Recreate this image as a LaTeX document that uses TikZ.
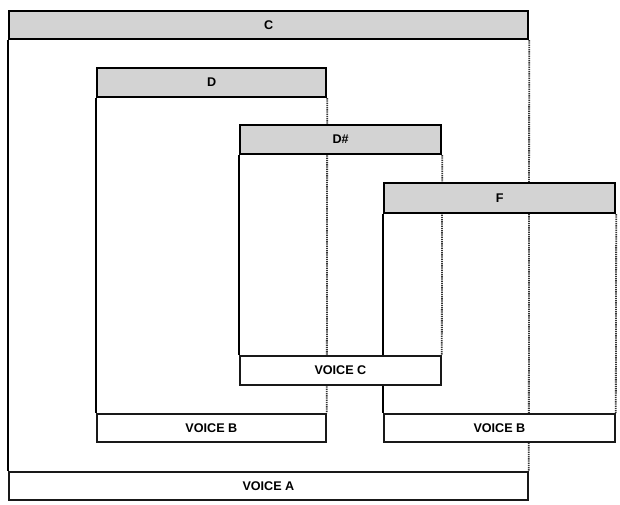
\documentclass[tikz,border=0pt]{standalone}
\usepackage{fontspec}
\setmainfont{Liberation Sans}
\definecolor{hdrgray}{RGB}{211,211,211}
\begin{document}
\begin{tikzpicture}[x=1pt,y=-1pt,
  lbl/.style={font=\bfseries\fontsize{12.6}{14}\selectfont},
  hdr/.style={lbl, draw=black, line width=2.2pt, fill=hdrgray, anchor=north west, inner sep=0pt, minimum height=28pt},
  voice/.style={lbl, draw=black!90, line width=1.8pt, fill=white, anchor=north west, inner sep=0pt, minimum height=28pt},
  sline/.style={draw=black, line width=2pt},
  dline/.style={draw=black!80, line width=1.8pt, dash pattern=on 1.3pt off 0.9pt}]
\useasboundingbox[fill=white] (0,0) rectangle (620,504);
% nodes (positions)
\path
  (8,10) node[hdr, minimum width=519pt] (C) {C}
  (96,67) node[hdr, minimum width=229pt, minimum height=29pt] (D) {D}
  (239,124) node[hdr, minimum width=201pt, minimum height=29pt] (Ds) {D\#}
  (383,182) node[hdr, minimum width=231pt, minimum height=30pt] (F) {F}
  (8,471) node[voice, minimum width=519pt] (VA) {VOICE A}
  (96,413) node[voice, minimum width=229pt] (VB1) {VOICE B}
  (239,355) node[voice, minimum width=201pt, minimum height=29pt] (VC) {VOICE C}
  (383,413) node[voice, minimum width=231pt] (VB2) {VOICE B};
% connecting lines
\draw[sline] (C.south west) -- (VA.north west);
\draw[dline] (C.south east) -- (VA.north east);
\draw[sline] (D.south west) -- (VB1.north west);
\draw[dline] (D.south east) -- (VB1.north east);
\draw[sline] (Ds.south west) -- (VC.north west);
\draw[dline] (Ds.south east) -- (VC.north east);
\draw[sline] (F.south west) -- (VB2.north west);
\draw[dline] (F.south east) -- (VB2.north east);
% redraw boxes on top
\path
  (8,10) node[hdr, minimum width=519pt] {C}
  (96,67) node[hdr, minimum width=229pt, minimum height=29pt] {D}
  (239,124) node[hdr, minimum width=201pt, minimum height=29pt] {D\#}
  (383,182) node[hdr, minimum width=231pt, minimum height=30pt] {F}
  (8,471) node[voice, minimum width=519pt] {VOICE A}
  (96,413) node[voice, minimum width=229pt] {VOICE B}
  (239,355) node[voice, minimum width=201pt, minimum height=29pt] {VOICE C}
  (383,413) node[voice, minimum width=231pt] {VOICE B};
\end{tikzpicture}
\end{document}
